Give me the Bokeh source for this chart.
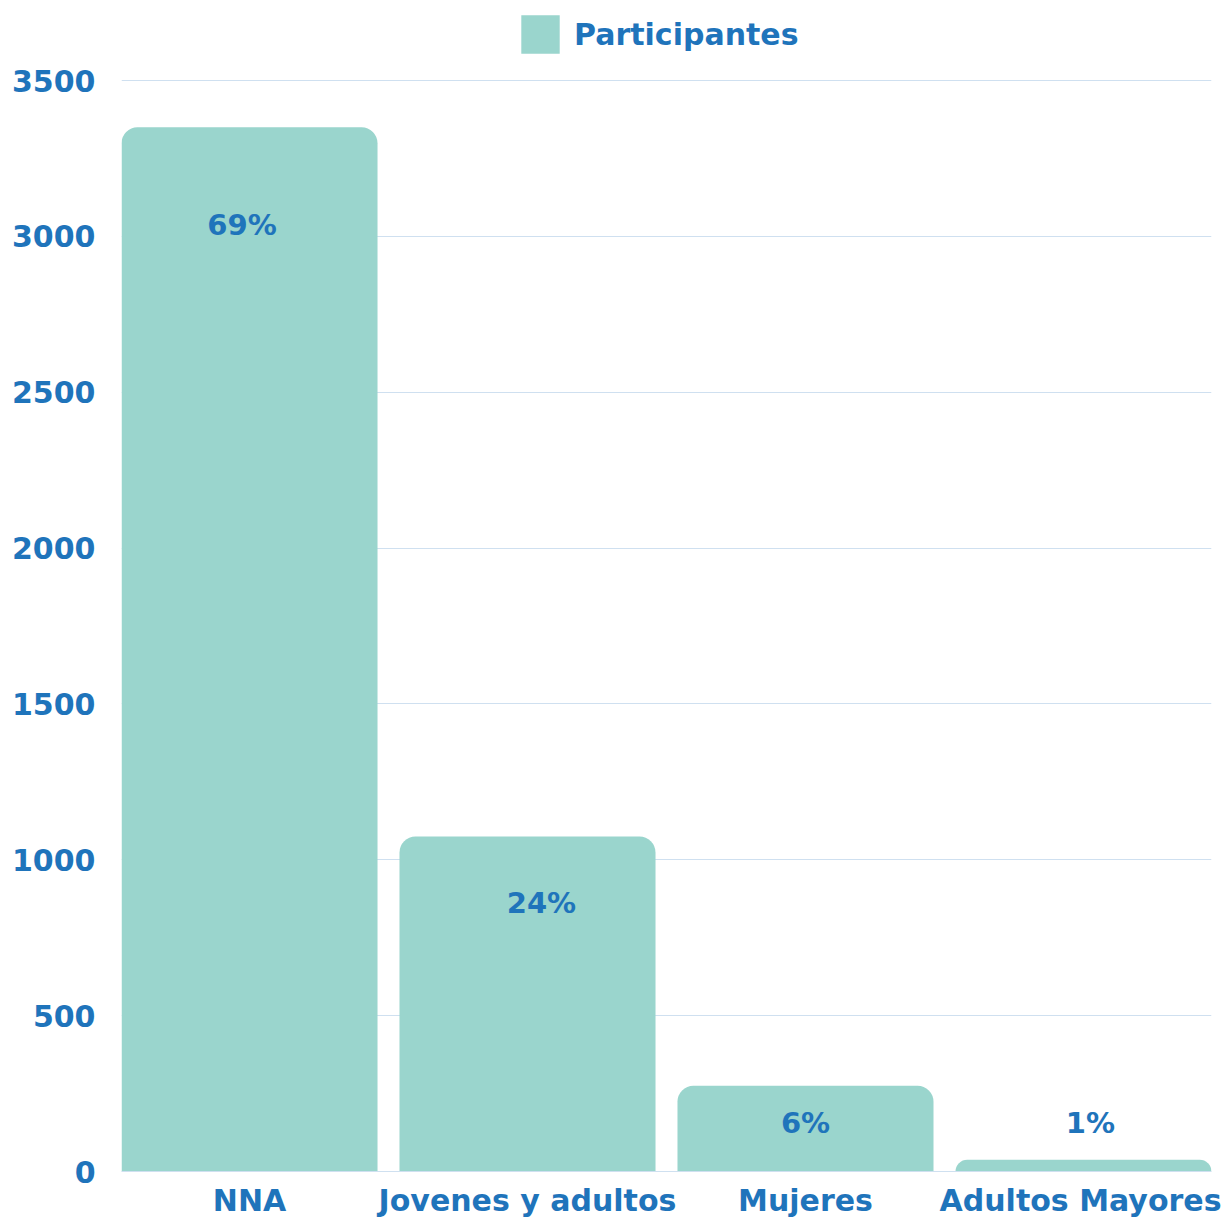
from bokeh.plotting import figure
from bokeh.models import ColumnDataSource, FixedTicker, Range1d, Legend, LegendItem
from bokeh.core.properties import value
from bokeh.embed import file_html
from bokeh.resources import INLINE

categories = ["NNA", "Jovenes y adultos", "Mujeres", "Adultos Mayores"]
participantes = [3350, 1075, 275, 38]
percent_labels = ["69%", "24%", "6%", "1%"]
label_y = [3038, 860, 157, 157]
label_dx = [-0.027, 0.05, 0.0, 0.025]
y_ticks = [0, 500, 1000, 1500, 2000, 2500, 3000, 3500]

BAR = "#9AD5CD"
TXT = "#1F74BB"
GRID = "#CFE0F0"
FONT = "DejaVu Sans"

xs = list(range(len(categories)))
lx = [x + d for x, d in zip(xs, label_dx)]
src = ColumnDataSource(dict(x=xs, top=participantes, lab=percent_labels, ly=label_y, lx=lx))

w = 0.921
p = figure(width=1221, height=1220, output_backend="svg", toolbar_location=None,
           x_range=Range1d(-w / 2, len(categories) - 1 + w / 2), y_range=Range1d(0, 3757),
           min_border_left=121, min_border_right=10, min_border_top=0, min_border_bottom=0)
p.outline_line_color = None
p.background_fill_color = "white"

r = p.vbar(x="x", top="top", width=w, source=src, fill_color=BAR, line_color=None,
           border_radius=(16, 16, 0, 0))

p.text(x="lx", y="ly", text="lab", source=src, text_align="center", text_baseline="middle",
       text_font=value(FONT), text_font_style="bold", text_font_size="29px", text_color=TXT)

p.xgrid.grid_line_color = None
p.ygrid.grid_line_color = GRID
p.ygrid.grid_line_width = 1

p.yaxis.ticker = FixedTicker(ticks=y_ticks)
p.xaxis.ticker = FixedTicker(ticks=xs)
p.xaxis.major_label_overrides = {i: c for i, c in enumerate(categories)}

for ax in (p.xaxis[0], p.yaxis[0]):
    ax.major_tick_line_color = None
    ax.minor_tick_line_color = None
    ax.major_label_text_font = FONT
    ax.major_label_text_font_style = "bold"
    ax.major_label_text_font_size = "30px"
    ax.major_label_text_color = TXT
p.yaxis.axis_line_color = None
p.yaxis.major_label_standoff = 20
p.xaxis.axis_line_color = GRID
p.xaxis.major_label_standoff = 5

legend = Legend(items=[LegendItem(label="Participantes", renderers=[r])],
                orientation="horizontal", location=(395, 1113),
                glyph_width=48, glyph_height=48, label_text_font=FONT,
                label_text_font_style="bold", label_text_font_size="30px",
                label_text_color=TXT, border_line_color=None, background_fill_alpha=0,
                label_standoff=10, margin=0, padding=0)
p.add_layout(legend, "center")

open("out.html", "w").write(file_html(p, INLINE))
